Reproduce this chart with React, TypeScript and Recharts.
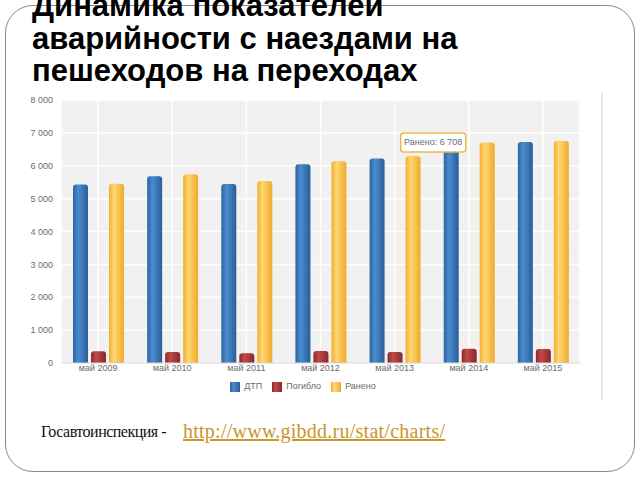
import React from "react";
import { Bar, BarChart, CartesianGrid, LabelList, Legend, XAxis, YAxis } from "recharts";

const periods = ["май 2009", "май 2010", "май 2011", "май 2012", "май 2013", "май 2014", "май 2015"];
const dtp = [5430, 5680, 5445, 6045, 6220, 6560, 6725];
const died = [355, 335, 295, 365, 335, 435, 425];
const injured = [5455, 5740, 5535, 6135, 6300, 6708, 6755];
const yTicks = [0, 1000, 2000, 3000, 4000, 5000, 6000, 7000, 8000];
const highlighted = "май 2014";

const data = periods.map((p, i) => ({ period: p, dtp: dtp[i], died: died[i], injured: injured[i] }));

const TICK = { fontSize: 9, fill: "#6b6b6b", fontFamily: "'Liberation Sans Narrow', 'Liberation Sans', Arial, sans-serif" };

function fmt(v: number): string {
  return String(v).replace(/\B(?=(\d{3})+(?!\d))/g, " ");
}

function Grad({ id, edge, mid, edge2 }: { id: string; edge: string; mid: string; edge2: string }) {
  return (
    <linearGradient id={id} x1="0" y1="0" x2="1" y2="0">
      <stop offset="0%" stopColor={edge} />
      <stop offset="35%" stopColor={mid} />
      <stop offset="100%" stopColor={edge2} />
    </linearGradient>
  );
}

// подсказка, как в исходном скриншоте (наведена на «Ранено» 2014)
function HoverBox(props: any) {
  const { x, y, value, index } = props;
  if (periods[index] !== highlighted) return null;
  const w = 65;
  const h = 19;
  const bx = x - 14 - w;
  const by = y - h / 2;
  return (
    <g>
      <rect x={bx} y={by} width={w} height={h} rx={3} fill="#fff" stroke="#e9b94e" strokeWidth={1.5} />
      <text x={bx + w / 2} y={by + h / 2 + 3} textAnchor="middle" style={{ ...TICK, fontSize: 9 }} fill="#555">
        {"Ранено: " + fmt(value)}
      </text>
    </g>
  );
}

export default function App() {
  return (
    <div style={{ position: "absolute", left: 0, top: 0, width: 640, height: 480, overflow: "hidden", background: "#fff" }}>
      <div
        style={{
          position: "absolute",
          left: 5,
          top: 5,
          width: 628,
          height: 465,
          border: "1.5px solid #8a8a8a",
          borderRadius: 28,
        }}
      />
      <div
        style={{
          position: "absolute",
          left: 32,
          top: -10,
          fontFamily: "'Liberation Sans', Arial, sans-serif",
          fontWeight: "bold",
          fontSize: 31,
          lineHeight: "32.5px",
          color: "#000",
          whiteSpace: "nowrap",
        }}
      >
        Динамика показателей
        <br />
        аварийности с наездами на
        <br />
        пешеходов на переходах
      </div>
      <div style={{ position: "absolute", left: 601, top: 93, width: 2, height: 307, background: "#e8e8e8" }} />
      <div style={{ position: "absolute", left: 0, top: 90 }}>
        <BarChart width={640} height={313} data={data} margin={{ top: 10, right: 60, left: 0, bottom: 0 }} barSize={15} barGap={3}>
          <defs>
            <Grad id="gBlue" edge="#2d64a0" mid="#4a8ccf" edge2="#2a5d97" />
            <Grad id="gRed" edge="#8a2a2a" mid="#c24a4a" edge2="#872828" />
            <Grad id="gYellow" edge="#f2ae30" mid="#ffd770" edge2="#eeaa2c" />
          </defs>
          <CartesianGrid fill="#f1f1f1" stroke="#ffffff" strokeWidth={1.5} />
          <XAxis dataKey="period" tick={TICK} axisLine={{ stroke: "#d6d6d6" }} tickLine={false} tickSize={0} tickMargin={2} height={20} />
          <YAxis
            domain={[0, 8000]}
            ticks={yTicks}
            tick={TICK}
            tickFormatter={fmt}
            axisLine={false}
            tickLine={false}
            width={61}
            interval={0}
          />
          <Legend
            height={20}
            iconType="square"
            iconSize={10}
            wrapperStyle={{ top: 291, left: 18, fontSize: 9, fontFamily: TICK.fontFamily }}
            formatter={(v: string) => <span style={{ color: "#6b6b6b" }}>{v}</span>}
          />
          <Bar dataKey="dtp" name="ДТП" fill="url(#gBlue)" radius={[3, 3, 0, 0]} isAnimationActive={false} />
          <Bar dataKey="died" name="Погибло" fill="url(#gRed)" radius={[3, 3, 0, 0]} isAnimationActive={false} />
          <Bar dataKey="injured" name="Ранено" fill="url(#gYellow)" radius={[3, 3, 0, 0]} isAnimationActive={false}>
            <LabelList dataKey="injured" content={HoverBox} />
          </Bar>
        </BarChart>
      </div>
      <div
        style={{
          position: "absolute",
          left: 41,
          top: 422,
          fontFamily: "'Liberation Serif', 'Times New Roman', serif",
          fontSize: 16,
          lineHeight: "20px",
          letterSpacing: -0.5,
          color: "#111",
          whiteSpace: "nowrap",
        }}
      >
        Госавтоинспекция -
      </div>
      <div
        style={{
          position: "absolute",
          left: 183,
          top: 421,
          fontFamily: "'Liberation Serif', 'Times New Roman', serif",
          fontSize: 20,
          lineHeight: "20px",
          letterSpacing: 0.25,
          color: "#c9952c",
          textDecoration: "underline",
          whiteSpace: "nowrap",
        }}
      >
        http://www.gibdd.ru/stat/charts/
      </div>
    </div>
  );
}
